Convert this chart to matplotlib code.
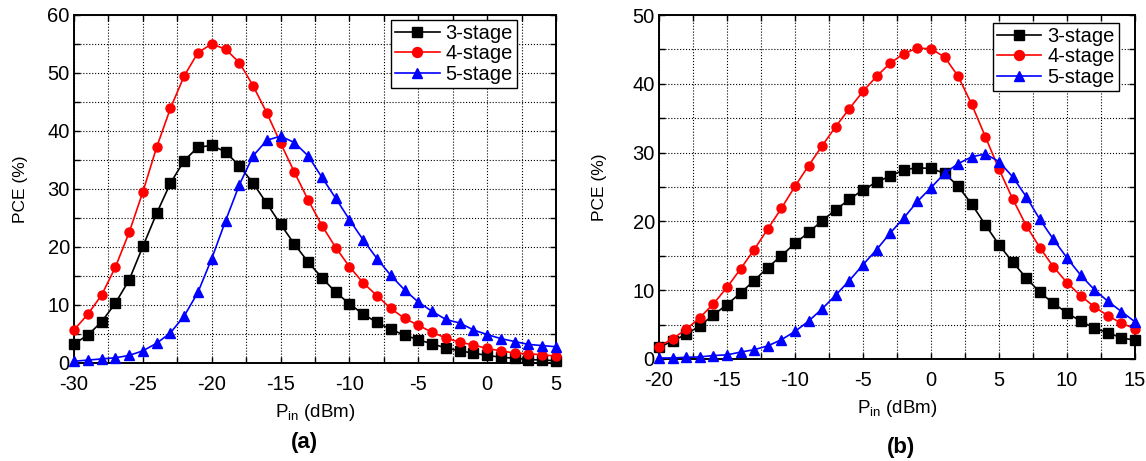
import matplotlib
matplotlib.use("Agg")
import matplotlib.pyplot as plt
from matplotlib.ticker import MultipleLocator

plt.rcParams['font.family'] = ['Liberation Sans', 'DejaVu Sans']
plt.rcParams['axes.unicode_minus'] = False

# panel (a): input power -30..5 dBm
pin_a = list(range(-30, 6))
pce_a3 = [3.3, 4.8, 7.1, 10.3, 14.3, 20.1, 25.8, 31.0, 34.9, 37.2, 37.5, 36.4, 34.0, 31.0, 27.5, 23.9, 20.5, 17.4,
          14.7, 12.2, 10.2, 8.4, 7.0, 5.8, 4.8, 4.0, 3.3, 2.6, 2.1, 1.7, 1.3, 1.0, 0.8, 0.6, 0.5, 0.4]
pce_a4 = [5.7, 8.4, 11.7, 16.5, 22.5, 29.5, 37.2, 43.9, 49.5, 53.5, 55.0, 54.1, 51.8, 47.8, 43.1, 37.9, 32.9, 28.1,
          23.7, 19.9, 16.6, 13.8, 11.6, 9.4, 7.7, 6.5, 5.3, 4.3, 3.6, 3.1, 2.5, 2.1, 1.7, 1.6, 1.4, 1.2]
pce_a5 = [0.3, 0.5, 0.7, 0.9, 1.3, 2.1, 3.4, 5.2, 8.1, 12.2, 18.0, 24.5, 30.7, 35.7, 38.4, 39.1, 38.0, 35.7,
          32.0, 28.4, 24.7, 21.2, 18.0, 15.1, 12.6, 10.5, 8.9, 7.5, 6.9, 5.7, 4.9, 4.2, 3.7, 3.2, 3.0, 2.8]

# panel (b): input power -20..15 dBm
pin_b = list(range(-20, 16))
pce_b3 = [1.7, 2.6, 3.6, 4.8, 6.4, 7.9, 9.6, 11.4, 13.3, 15.0, 16.8, 18.4, 20.1, 21.7, 23.2, 24.6, 25.7, 26.6,
          27.5, 27.8, 27.7, 27.0, 25.1, 22.5, 19.5, 16.6, 14.1, 11.8, 9.7, 8.1, 6.7, 5.5, 4.5, 3.8, 3.1, 2.7]
pce_b4 = [1.8, 2.95, 4.3, 6.0, 8.0, 10.4, 13.1, 15.9, 18.9, 21.9, 25.1, 28.1, 31.0, 33.8, 36.4, 38.9, 41.1, 43.0,
          44.4, 45.2, 45.1, 43.9, 41.1, 37.0, 32.3, 27.6, 23.3, 19.4, 16.2, 13.4, 11.1, 9.2, 7.6, 6.3, 5.2, 4.4]
pce_b5 = [0.15, 0.15, 0.25, 0.3, 0.5, 0.6, 1.0, 1.35, 1.9, 2.8, 4.0, 5.5, 7.3, 9.3, 11.4, 13.7, 15.9, 18.3,
          20.5, 22.9, 24.9, 27.0, 28.4, 29.4, 29.8, 28.7, 26.5, 23.6, 20.3, 17.4, 14.7, 12.2, 10.1, 8.4, 6.9, 5.4]

labels = ["3-stage", "4-stage", "5-stage"]
colors = ["black", "red", "blue"]
markers = ["s", "o", "^"]

fig = plt.figure(figsize=(11.46, 4.61), dpi=100)
ax_a = fig.add_axes([0.0646, 0.2126, 0.4206, 0.755])
ax_b = fig.add_axes([0.575, 0.2213, 0.4154, 0.746])


def draw_panel(ax, x, series, xlim, ylim, legend_anchor, ylabelpad):
    for y, lab, c, m in zip(series, labels, colors, markers):
        ax.plot(x, y, color=c, marker=m, markersize=6.5, linewidth=1.2, label=lab, clip_on=False, zorder=3)
    ax.set_xlim(*xlim)
    ax.set_ylim(*ylim)
    ax.xaxis.set_major_locator(MultipleLocator(5))
    ax.xaxis.set_minor_locator(MultipleLocator(2.5))
    ax.yaxis.set_major_locator(MultipleLocator(10))
    ax.yaxis.set_minor_locator(MultipleLocator(5))
    ax.grid(True, which="both", color="black", linestyle=":", linewidth=0.8)
    ax.tick_params(which="both", direction="in", top=True, right=True, length=4.5, width=1, labelsize=14.5)
    ax.tick_params(axis="x", pad=8.5)
    ax.tick_params(axis="y", pad=3)
    for s in ax.spines.values():
        s.set_linewidth(1.4)
    ax.set_ylabel("PCE (%)", fontsize=12.5, labelpad=ylabelpad)
    ax.set_xlabel(r"P$_\mathregular{in}$ (dBm)", fontsize=13.5, labelpad=6)
    leg = ax.legend(loc="upper right", bbox_to_anchor=legend_anchor, fontsize=14.5, handlelength=2.2,
                    labelspacing=0.08, borderpad=0.2, handletextpad=0.3, borderaxespad=0, fancybox=False,
                    framealpha=1, edgecolor="black", markerscale=1.1)
    leg.get_frame().set_linewidth(1.0)


draw_panel(ax_a, pin_a, [pce_a3, pce_a4, pce_a5], (-30, 5), (0, 60), (0.919, 0.986), 14)
draw_panel(ax_b, pin_b, [pce_b3, pce_b4, pce_b5], (-20, 15), (0, 50), (0.966, 0.978), 18)

fig.text(304 / 1146, 1 - 442 / 461, "(a)", fontsize=16, fontweight="bold", ha="center", va="center")
fig.text(901 / 1146, 1 - 447 / 461, "(b)", fontsize=16, fontweight="bold", ha="center", va="center")

fig.savefig("out.png", dpi=100)
